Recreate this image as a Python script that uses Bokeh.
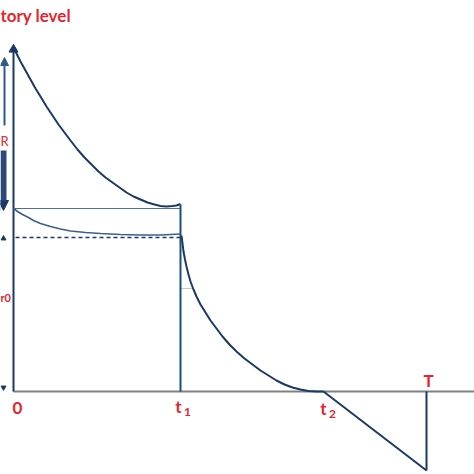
from bokeh.plotting import figure
from bokeh.models import Range1d, Arrow, NormalHead
from bokeh.core.properties import value
from bokeh.embed import file_html
from bokeh.resources import INLINE

# --- data (picture pixel coordinates, y downward) ---
upper_x = [13, 16, 20, 25, 30, 35, 40, 46, 52, 58, 64, 70, 77, 84, 91, 98, 105, 112,
           119, 126, 133, 140, 147, 154, 160, 166, 172, 176, 180]
upper_y = [47, 53, 61, 70, 79, 88, 96, 106, 115, 124, 132, 140, 149, 157, 164, 171, 177, 182,
           187, 192, 196, 199, 202, 204, 205.5, 206, 205.5, 205, 203.5]
lower_x = [13, 17, 22, 28, 33, 40, 50, 60, 70, 85, 100, 120, 140, 160, 180]
lower_y = [208, 211, 214, 217, 220, 223, 226, 228.5, 230.5, 232, 233, 234, 234.5, 234.5, 233.5]
drop_x = [181, 182, 183, 184.5, 186, 188, 190, 193, 196, 200, 205, 210, 216, 222, 229, 236,
          244, 252, 260, 268, 276, 284, 292, 300, 308, 316, 323]
drop_y = [235, 243, 251, 259, 266, 274, 281, 289, 296, 304, 312, 320, 328, 336, 344, 351,
          358, 364, 370, 375, 380, 384, 387, 389, 390.5, 391, 391]
short_x = [323, 426]
short_y = [391, 470]
x_labels = ["0", "t", "t", "T"]
x_label_pos = [17, 178, 323, 428]
sub_labels = ["1", "2"]
sub_pos = [187, 332]
title_text = "tory level"

NAVY = "#1b3866"
RED = "#e3262f"

p = figure(width=474, height=474, output_backend="svg", toolbar_location=None,
           x_range=Range1d(0, 474), y_range=Range1d(474, 0), min_border=0)
p.axis.visible = False
p.grid.visible = False
p.outline_line_color = None
p.background_fill_color = "white"

# axes of the diagram
p.line([13, 474], [391, 391], line_color="#808080", line_width=2)
p.line([13, 13], [391, 50], line_color=NAVY, line_width=2)
p.triangle([13], [49], size=9, fill_color=NAVY, line_color=NAVY)

# helper lines
p.line([13, 180], [208, 208], line_color="#4d6f9c", line_width=1)
p.line([15, 180], [237, 237], line_color=NAVY, line_width=1.5, line_dash="4 3")
p.line([180, 192], [288, 288], line_color="#c8c8c8", line_width=1)

# curves
p.line(upper_x, upper_y, line_color=NAVY, line_width=2)
p.line(lower_x, lower_y, line_color="#3c5f8e", line_width=1.6)
p.line([180, 180], [204, 391], line_color="#1f4e79", line_width=2)
p.line(drop_x, drop_y, line_color=NAVY, line_width=2)
p.line(short_x, short_y, line_color=NAVY, line_width=2)
p.line([426, 426], [391, 470], line_color=NAVY, line_width=2)

# left dimension arrows (mostly cut off at the edge)
p.add_layout(Arrow(x_start=4, y_start=125, x_end=4, y_end=57, line_color="#2e5c8a",
                   line_width=2, end=NormalHead(size=8, fill_color="#2e5c8a", line_color="#2e5c8a")))
p.add_layout(Arrow(x_start=3, y_start=150, x_end=3, y_end=210, line_color="#2b4a78",
                   line_width=6, end=NormalHead(size=10, fill_color="#1b3866", line_color="#1b3866")))
p.triangle([3], [238], size=5, fill_color=NAVY, line_color=NAVY)
p.inverted_triangle([3], [387], size=5, fill_color=NAVY, line_color=NAVY)

# texts
p.text(x=[0], y=[15], text=[title_text], text_color=RED, text_font=value("Lato"),
       text_font_size="17px", text_font_style="bold", text_baseline="middle", text_align="left")
p.text(x=[0], y=[140], text=["R"], text_color=RED, text_font=value("Lato"),
       text_font_size="13px", text_baseline="middle", text_align="left")
p.text(x=[0], y=[297], text=["r0"], text_color=RED, text_font=value("Lato"),
       text_font_size="11px", text_font_style="bold", text_baseline="middle", text_align="left")
p.text(x=x_label_pos, y=[407, 406, 408, 380], text=x_labels, text_color=RED,
       text_font=value("Lato"), text_font_size="17px", text_font_style="bold",
       text_baseline="middle", text_align="center")
p.text(x=sub_pos, y=[411, 413], text=sub_labels, text_color=RED,
       text_font=value("Lato"), text_font_size="12px", text_font_style="bold",
       text_baseline="middle", text_align="center")

open("out.html", "w").write(file_html(p, INLINE))
